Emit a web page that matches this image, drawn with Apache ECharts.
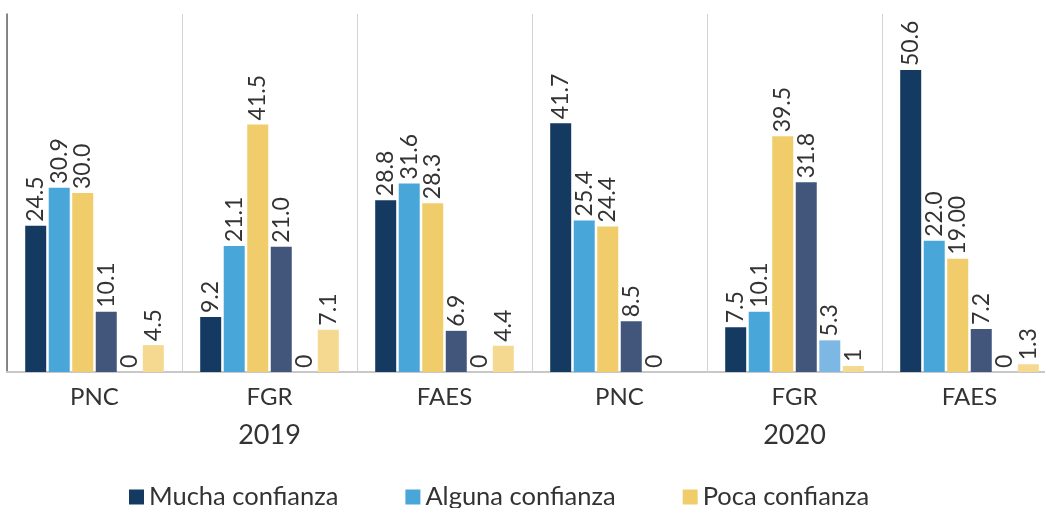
<!DOCTYPE html>
<html>
<head>
<meta charset="utf-8">
<script src="https://cdn.jsdelivr.net/npm/echarts@6/dist/echarts.min.js"></script>
<style>html,body{margin:0;padding:0;background:#fff}#c{width:1045px;height:508px}</style>
</head>
<body>
<div id="c"></div>
<script>
const categories = ['PNC', 'FGR', 'FAES', 'PNC', 'FGR', 'FAES'];
const years = ['2019', '2020'];
const seriesNames = ['Mucha confianza', 'Alguna confianza', 'Poca confianza', 'Nada de confianza', 'No sabe', 'No contesta'];
const legendNames = ['Mucha confianza', 'Alguna confianza', 'Poca confianza'];
// values as printed on the chart (labels keep the original formatting)
const mucha   = ['24.5', '9.2', '28.8', '41.7', '7.5', '50.6'];
const alguna  = ['30.9', '21.1', '31.6', '25.4', '10.1', '22.0'];
const poca    = ['30.0', '41.5', '28.3', '24.4', '39.5', '19.00'];
const nada    = ['10.1', '21.0', '6.9', '8.5', '31.8', '7.2'];
const noSabe  = ['0', '0', '0', '0', '5.3', '0'];
const noCont  = ['4.5', '7.1', '4.4', null, '1', '1.3'];
const seriesValues = [mucha, alguna, poca, nada, noSabe, noCont];
const colors = ['#143a62', '#48a6d9', '#f0cc6b', '#42557b', '#7db7e3', '#f5d990'];

const font = 'Lato, "Open Sans", sans-serif';
const chart = echarts.init(document.getElementById('c'));
chart.setOption({
  animation: false,
  textStyle: { fontFamily: font },
  grid: { left: 7, top: 14, width: 1050, height: 358, containLabel: false, outerBoundsMode: 'none' },
  legend: {
    data: legendNames,
    top: 484,
    left: 129,
    padding: 0,
    itemWidth: 15,
    itemHeight: 15,
    itemGap: 67,
    icon: 'rect',
    textStyle: { fontSize: 25.5, color: '#333', fontFamily: font }
  },
  xAxis: [
    {
      type: 'category',
      data: categories,
      axisLine: { show: true, lineStyle: { color: '#c8c8c8', width: 2 } },
      axisTick: { show: false },
      axisLabel: { fontSize: 24, color: '#333', margin: 13, fontFamily: font },
      splitLine: { show: true, interval: 0, lineStyle: { color: '#d4d4d4', width: 1 } }
    },
    {
      type: 'category',
      data: years,
      position: 'bottom',
      axisLine: { show: false },
      axisTick: { show: false },
      axisLabel: { fontSize: 27, color: '#333', margin: 50, fontFamily: font },
      splitLine: { show: false }
    }
  ],
  yAxis: {
    type: 'value',
    min: 0,
    max: 60,
    axisLine: { show: true, lineStyle: { color: '#666', width: 1.5 } },
    axisTick: { show: false },
    axisLabel: { show: false },
    splitLine: { show: false }
  },
  series: seriesValues.map((vals, i) => ({
    name: seriesNames[i],
    type: 'bar',
    xAxisIndex: 0,
    barWidth: 21,
    barGap: '12%',
    itemStyle: { color: colors[i] },
    data: vals.map(v => v === null ? null : Number(v)),
    label: {
      show: true,
      position: 'top',
      rotate: 90,
      align: 'left',
      verticalAlign: 'middle',
      distance: 4,
      fontSize: 23,
      color: '#333',
      fontFamily: font,
      formatter: p => vals[p.dataIndex] === null ? '' : vals[p.dataIndex]
    }
  }))
});
</script>
</body>
</html>
